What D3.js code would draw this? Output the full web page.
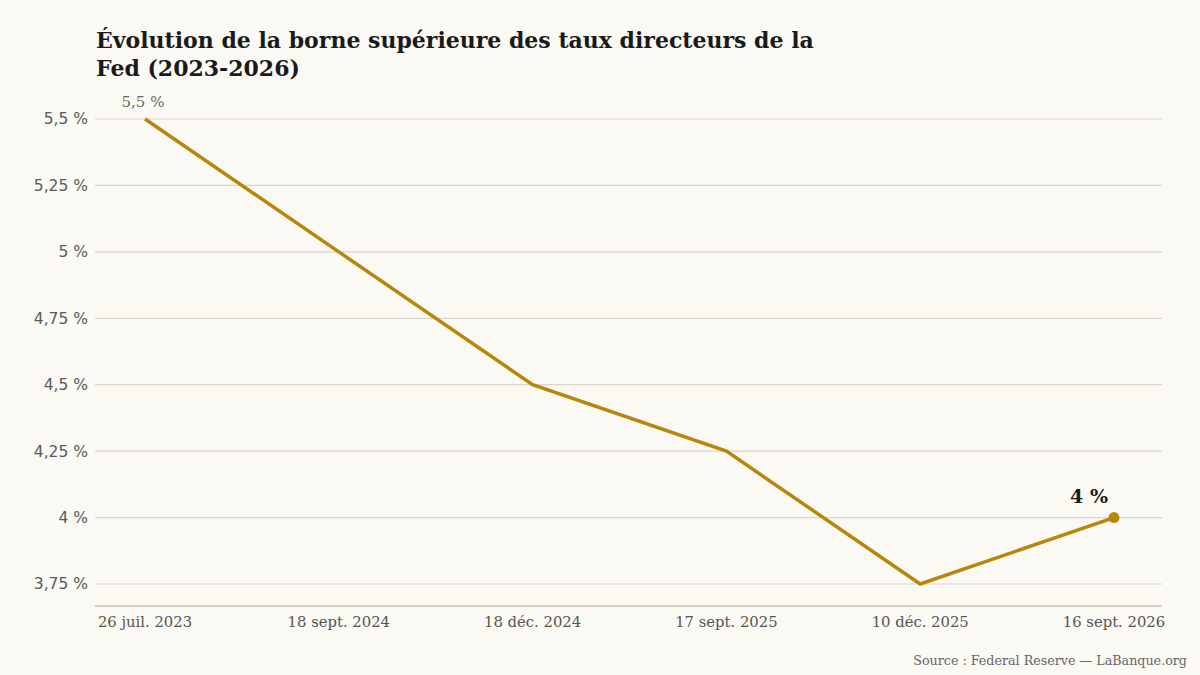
<!DOCTYPE html>
<html>
<head>
<meta charset="utf-8">
<script src="https://cdn.jsdelivr.net/npm/d3@7"></script>
<style>
  html, body { margin: 0; padding: 0; background: #fbf9f3; }
</style>
</head>
<body>
<div id="chart"></div>
<script>
// Fed upper bound, per FOMC decision date
var dates = ["26 juil. 2023", "18 sept. 2024", "18 déc. 2024", "17 sept. 2025", "10 déc. 2025", "16 sept. 2026"];
var rates = [5.5, 5.0, 4.5, 4.25, 3.75, 4.0];
var yTicks = [3.75, 4, 4.25, 4.5, 4.75, 5, 5.25, 5.5];

var width = 1200, height = 675;
var gold = "#b8860b";

function fmt(v) {
    return String(v).replace(".", ",") + " %";
}

var svg = d3.select("#chart").append("svg")
    .attr("width", width)
    .attr("height", height)
    .style("background-color", "#fbf9f3");

var x = d3.scalePoint()
    .domain(dates)
    .range([145, 1114]);

var y = d3.scaleLinear()
    .domain([3.75, 5.5])
    .range([584, 119]);

// title
var title = svg.append("text")
    .attr("x", 96)
    .attr("y", 48)
    .style("font-family", "'DejaVu Serif', serif")
    .style("font-weight", "bold")
    .style("font-size", "22px")
    .style("fill", "#1a1a1a");
title.append("tspan").attr("x", 96).attr("dy", 0)
    .text("Évolution de la borne supérieure des taux directeurs de la");
title.append("tspan").attr("x", 96).attr("dy", 28)
    .text("Fed (2023-2026)");

// gridlines + y labels
var grid = svg.append("g").attr("class", "grid");
grid.selectAll("line")
    .data(yTicks)
    .enter()
    .append("line")
    .attr("x1", 95)
    .attr("x2", 1162)
    .attr("y1", function(d) { return y(d); })
    .attr("y2", function(d) { return y(d); })
    .style("stroke", "#dcd5c8")
    .style("stroke-width", 1.2);

grid.selectAll("text")
    .data(yTicks)
    .enter()
    .append("text")
    .attr("x", 88)
    .attr("y", function(d) { return y(d); })
    .attr("dy", "0.35em")
    .style("text-anchor", "end")
    .style("font-family", "'DejaVu Sans', sans-serif")
    .style("font-size", "15.5px")
    .style("fill", "#5a5a5a")
    .text(fmt);

// baseline
svg.append("line")
    .attr("x1", 95)
    .attr("x2", 1162)
    .attr("y1", y(3.75) + 22)
    .attr("y2", y(3.75) + 22)
    .style("stroke", "#cbc3b4")
    .style("stroke-width", 1.5);

// x labels
svg.append("g")
    .attr("class", "xlabels")
    .selectAll("text")
    .data(dates)
    .enter()
    .append("text")
    .attr("x", function(d) { return x(d); })
    .attr("y", 627)
    .style("text-anchor", "middle")
    .style("font-family", "'DejaVu Serif', serif")
    .style("font-size", "14.8px")
    .style("fill", "#555")
    .text(function(d) { return d; });

// line
var points = dates.map(function(d, i) { return [x(d), y(rates[i])]; });
svg.append("path")
    .attr("d", d3.line()(points))
    .style("fill", "none")
    .style("stroke", gold)
    .style("stroke-width", 3.5)
    .style("stroke-linejoin", "miter");

// end dot
var last = dates.length - 1;
svg.append("circle")
    .attr("cx", x(dates[last]))
    .attr("cy", y(rates[last]))
    .attr("r", 5.5)
    .style("fill", gold);

// annotations
svg.append("text")
    .attr("x", x(dates[0]) - 2)
    .attr("y", y(rates[0]) - 12)
    .style("text-anchor", "middle")
    .style("font-family", "'DejaVu Serif', serif")
    .style("font-size", "15px")
    .style("fill", "#666")
    .text(fmt(rates[0]));

svg.append("text")
    .attr("x", x(dates[last]) - 25)
    .attr("y", y(rates[last]) - 15)
    .style("text-anchor", "middle")
    .style("font-family", "'DejaVu Serif', serif")
    .style("font-weight", "bold")
    .style("font-size", "19px")
    .style("fill", "#1a1a1a")
    .text(fmt(rates[last]));

// source
svg.append("text")
    .attr("x", 1187)
    .attr("y", 665)
    .style("text-anchor", "end")
    .style("font-family", "'DejaVu Serif', serif")
    .style("font-size", "12.7px")
    .style("fill", "#666")
    .text("Source : Federal Reserve — LaBanque.org");
</script>
</body>
</html>
